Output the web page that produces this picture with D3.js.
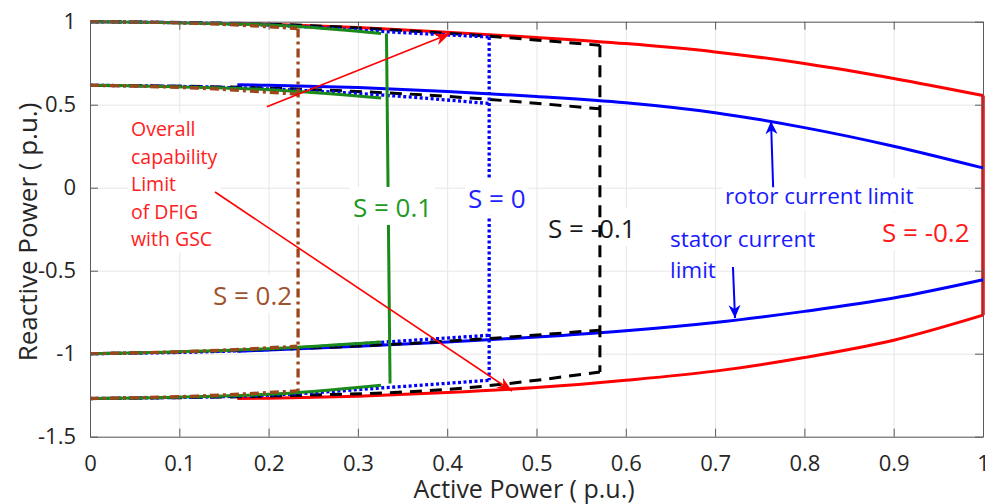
<!DOCTYPE html>
<html>
<head>
<meta charset="utf-8">
<script src="https://cdn.jsdelivr.net/npm/d3@7"></script>
<style>
  body { margin: 0; background: #fff; }
  svg text { font-family: "Open Sans", sans-serif; }
</style>
</head>
<body>
<svg id="chart" width="985" height="504"></svg>
<script>
// Tick values
var xTicks = [0, 0.1, 0.2, 0.3, 0.4, 0.5, 0.6, 0.7, 0.8, 0.9, 1];
var yTicks = [-1.5, -1, -0.5, 0, 0.5, 1];

// S = -0.2 : overall limit (red) and rotor / stator current limits (blue)
var envP    = [0.165, 0.2, 0.3, 0.4, 0.5, 0.6, 0.7, 0.8, 0.9, 1.0];
var redTop  = [0.99, 0.985, 0.965, 0.937, 0.905, 0.868, 0.818, 0.748, 0.658, 0.555];
var redBot  = [-1.27, -1.268, -1.256, -1.234, -1.204, -1.16, -1.105, -1.023, -0.919, -0.768];
var rotorQ  = [0.62, 0.617, 0.603, 0.58, 0.55, 0.512, 0.452, 0.362, 0.25, 0.119];
var statorQ = [-0.985, -0.978, -0.955, -0.93, -0.9, -0.862, -0.812, -0.745, -0.665, -0.555];

// S = -0.1 (black dashed)
var sm1P   = [0, 0.2, 0.4, 0.571];
var sm1Top = [1.0, 0.985, 0.93, 0.858];
var sm1Mid = [0.617, 0.6, 0.55, 0.475];
var sm1Low = [-1.0, -0.975, -0.925, -0.858];
var sm1Bot = [-1.27, -1.255, -1.215, -1.11];
var sm1EdgeP = [0.571, 0.571];
var sm1EdgeQ = [0.858, -1.11];

// S = 0 (blue dotted)
var s0P   = [0, 0.2, 0.33, 0.447];
var s0Top = [1.0, 0.98, 0.94, 0.908];
var s0Mid = [0.617, 0.595, 0.557, 0.507];
var s0Low = [-1.0, -0.975, -0.93, -0.889];
var s0Bot = [-1.27, -1.25, -1.205, -1.16];
var s0EdgeP = [0.447, 0.447];
var s0EdgeQ = [0.908, -1.16];

// S = 0.1 (green solid)
var s1P   = [0, 0.2, 0.326];
var s1Top = [1.0, 0.98, 0.929];
var s1Mid = [0.617, 0.59, 0.541];
var s1Low = [-1.0, -0.97, -0.929];
var s1Bot = [-1.27, -1.245, -1.19];
var s1EdgeP = [0.332, 0.336];
var s1EdgeQ = [0.929, -1.18];

// S = 0.2 (brown dash-dot)
var s2P   = [0, 0.12, 0.232];
var s2Top = [1.0, 0.99, 0.959];
var s2Mid = [0.617, 0.6, 0.563];
var s2Low = [-1.0, -0.985, -0.955];
var s2Bot = [-1.27, -1.255, -1.224];
var s2EdgeP = [0.233, 0.233];
var s2EdgeQ = [0.959, -1.224];

var svg = d3.select("#chart");
var x = d3.scaleLinear().domain([0, 1]).range([90, 983]);
var y = d3.scaleLinear().domain([-1.5, 1]).range([436.7, 21.7]);
var W = 893, H = 415;

function pts(P, Q) { return P.map(function(p, i) { return [p, Q[i]]; }); }
var curve = d3.line().x(function(d) { return x(d[0]); }).y(function(d) { return y(d[1]); }).curve(d3.curveMonotoneX);
var straight = d3.line().x(function(d) { return x(d[0]); }).y(function(d) { return y(d[1]); });

// grid
svg.append("g").attr("transform", "translate(0,436.7)")
    .call(d3.axisBottom(x).tickValues(xTicks).tickSize(-H).tickFormat(""))
    .call(function(g) { g.select(".domain").remove(); })
    .selectAll("line").attr("stroke", "#e6e6e6");
svg.append("g").attr("transform", "translate(90,0)")
    .call(d3.axisLeft(y).tickValues(yTicks).tickSize(-W).tickFormat(""))
    .call(function(g) { g.select(".domain").remove(); })
    .selectAll("line").attr("stroke", "#e6e6e6");

// text, optionally on a white box
function boxedText(lines, p, q, color, size, lineH, boxed) {
    var g = svg.append("g");
    var t = g.append("text").attr("fill", color).attr("font-size", size + "px");
    lines.forEach(function(s, i) {
        t.append("tspan").attr("x", x(p)).attr("y", y(q) + i * lineH).text(s);
    });
    if (boxed) {
        var b = t.node().getBBox();
        g.insert("rect", "text").attr("x", b.x - 3).attr("y", b.y - 2)
            .attr("width", b.width + 6).attr("height", b.height + 2).attr("fill", "#fff");
    }
    return g;
}

// S = -0.1 label sits under its own dashed line
boxedText(["S = -0.1"], 0.5129, -0.303, "#1a1a1a", 26, 0, true);

// S = -0.2 envelope
svg.append("path").attr("d", curve(pts(envP, redTop))).attr("fill", "none").attr("stroke", "#ff0000").attr("stroke-width", 3);
svg.append("path").attr("d", curve(pts(envP, redBot))).attr("fill", "none").attr("stroke", "#ff0000").attr("stroke-width", 3);
svg.append("path").attr("d", straight([[1, redTop[redTop.length - 1]], [1, redBot[redBot.length - 1]]]))
    .attr("fill", "none").attr("stroke", "#ff0000").attr("stroke-width", 3.5);
svg.append("path").attr("d", curve(pts(envP, rotorQ))).attr("fill", "none").attr("stroke", "#0000ff").attr("stroke-width", 3);
svg.append("path").attr("d", curve(pts(envP, statorQ))).attr("fill", "none").attr("stroke", "#0000ff").attr("stroke-width", 3);

function drawSlip(P, rows, edgeP, edgeQ, color, dash, w) {
    var g = svg.append("g").attr("fill", "none").attr("stroke", color).attr("stroke-width", w)
        .attr("stroke-dasharray", dash);
    rows.forEach(function(Q) { g.append("path").attr("d", curve(pts(P, Q))); });
    g.append("path").attr("d", straight(pts(edgeP, edgeQ)));
}
drawSlip(sm1P, [sm1Top, sm1Mid, sm1Low, sm1Bot], sm1EdgeP, sm1EdgeQ, "#000000", "12,8", 3);
drawSlip(s0P, [s0Top, s0Mid, s0Low, s0Bot], s0EdgeP, s0EdgeQ, "#0000ff", "3,2.5", 3.3);
drawSlip(s1P, [s1Top, s1Mid, s1Low, s1Bot], s1EdgeP, s1EdgeQ, "#1a8a1a", null, 3);
drawSlip(s2P, [s2Top, s2Mid, s2Low, s2Bot], s2EdgeP, s2EdgeQ, "#9c461a", "9,4,3,4", 3.3);

// labels
boxedText(["S = 0.2"], 0.1377, -0.707, "#a0522d", 26, 0, true);
boxedText(["S = 0.1"], 0.2945, -0.176, "#229922", 26, 0, true);
boxedText(["S = 0"], 0.4233, -0.122, "#2222ff", 26, 0, true);
boxedText(["S = -0.2"], 0.8869, -0.327, "#ff1a1a", 26, 0, true);
boxedText(["rotor current limit"], 0.711, -0.098, "#1a1aff", 22.5, 0, true);
boxedText(["stator current", "limit"], 0.6495, -0.357, "#1a1aff", 22.5, 31, false);
boxedText(["Overall", "capability", "Limit", "of DFIG", "with GSC"], 0.0459, 0.311, "#ff2020", 19.5, 27.6, true);

// arrows
var defs = svg.append("defs");
function marker(id, color, len, half) {
    defs.append("marker").attr("id", id).attr("markerUnits", "userSpaceOnUse")
        .attr("viewBox", "0 " + (-half) + " " + len + " " + (2 * half))
        .attr("refX", len).attr("refY", 0).attr("markerWidth", len).attr("markerHeight", 2 * half)
        .attr("orient", "auto")
        .append("path").attr("d", "M0," + (-half) + "L" + len + ",0L0," + half + "L" + (len * 0.3) + ",0Z")
        .attr("fill", color);
}
marker("redHead", "#ff0000", 15, 6);
marker("blueHead", "#0000ff", 13, 6);
function arrow(p0, q0, p1, q1, color, w, head) {
    svg.append("line").attr("x1", x(p0)).attr("y1", y(q0)).attr("x2", x(p1)).attr("y2", y(q1))
        .attr("stroke", color).attr("stroke-width", w).attr("marker-end", "url(#" + head + ")");
}
arrow(0.198, 0.487, 0.403, 0.927, "#ff0000", 1.6, "redHead");
arrow(0.140, -0.026, 0.4726, -1.225, "#ff0000", 1.6, "redHead");
arrow(0.765, 0.003, 0.7626, 0.401, "#0000ff", 2, "blueHead");
arrow(0.72, -0.478, 0.7223, -0.785, "#0000ff", 2, "blueHead");

// axes (MATLAB style: box with inward ticks)
var axisColor = "#5a5a5a";
var fmt = function(d) { return String(d); };
var axes = svg.append("g").attr("class", "axes");
axes.append("g").attr("transform", "translate(0,436.7)")
    .call(d3.axisBottom(x).tickValues(xTicks).tickSize(-8).tickSizeOuter(0).tickPadding(19).tickFormat(fmt));
axes.append("g").attr("transform", "translate(90,0)")
    .call(d3.axisLeft(y).tickValues(yTicks).tickSize(-8).tickSizeOuter(0).tickPadding(14).tickFormat(fmt));
axes.append("g").attr("transform", "translate(0,21.7)")
    .call(d3.axisTop(x).tickValues(xTicks).tickSize(-8).tickSizeOuter(0).tickFormat(""));
axes.append("g").attr("transform", "translate(983,0)")
    .call(d3.axisRight(y).tickValues(yTicks).tickSize(-8).tickSizeOuter(0).tickFormat(""));
axes.selectAll(".domain, .tick line").attr("stroke", axisColor);
axes.selectAll(".tick text").attr("font-size", "22px").attr("fill", "#262626")
    .attr("font-family", "'Open Sans', sans-serif");

// axis titles
svg.append("text").attr("x", 524).attr("y", 498).attr("text-anchor", "middle")
    .attr("font-size", "25px").attr("fill", "#262626").text("Active Power ( p.u.)");
svg.append("text").attr("transform", "translate(37,232) rotate(-90)").attr("text-anchor", "middle")
    .attr("font-size", "26px").attr("fill", "#262626").text("Reactive Power ( p.u.)");
</script>
</body>
</html>
